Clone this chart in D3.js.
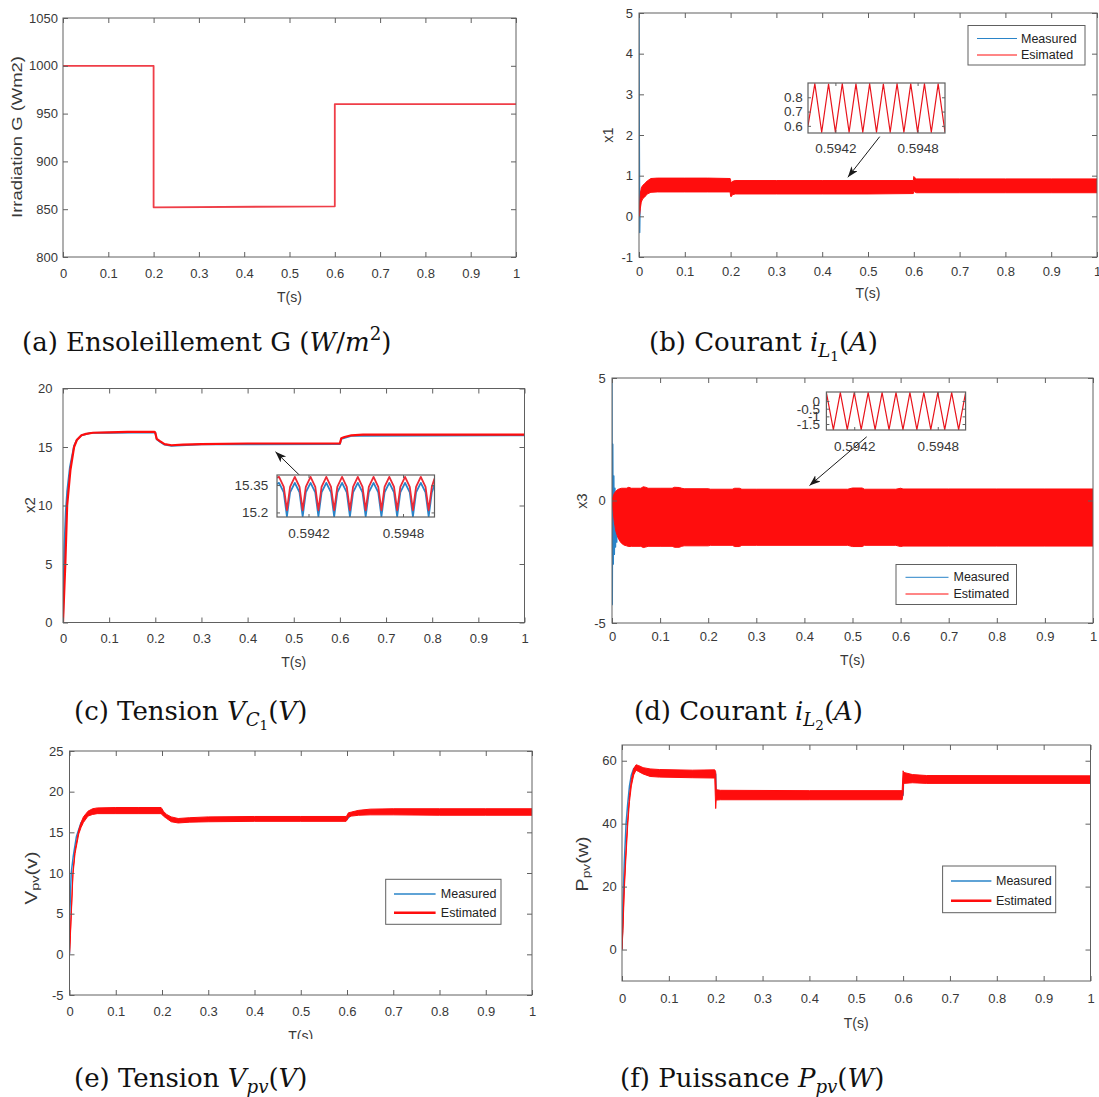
<!DOCTYPE html>
<html>
<head>
<meta charset="utf-8">
<script src="https://cdn.jsdelivr.net/npm/d3@7/dist/d3.min.js"></script>
<style>
  html, body { margin: 0; padding: 0; background: #fff; }
  svg { display: block; }
</style>
</head>
<body>
<svg id="fig" width="1099" height="1097"></svg>
<script>
// ---------- shared tick values ----------
const timeTicks = [0, 0.1, 0.2, 0.3, 0.4, 0.5, 0.6, 0.7, 0.8, 0.9, 1];
const zoomTimeTicks = [0.5942, 0.5948];
// switching instants shown in the zoomed windows (10 kHz PWM)
const zoomSwitchT = [0.594, 0.59405, 0.5941, 0.59415, 0.5942, 0.59425, 0.5943, 0.59435, 0.5944, 0.59445,
  0.5945, 0.59455, 0.5946, 0.59465, 0.5947, 0.59475, 0.5948, 0.59485, 0.5949, 0.59495, 0.595];

// ---------- (a) irradiance profile ----------
const irrT = [0, 0.2, 0.2, 0.6, 0.6, 1];
const irrG = [1000, 1000, 852, 853, 960, 960];
const irrTicks = [800, 850, 900, 950, 1000, 1050];

// ---------- (b) x1 : inductor current iL1 ----------
const x1T  = [0, 0.0015, 0.003, 0.005, 0.008, 0.012, 0.018, 0.026, 0.04, 0.1,
  0.15, 0.199, 0.2, 0.201, 0.204, 0.21, 0.3, 0.4, 0.5, 0.599,
  0.6, 0.602, 0.606, 0.7, 0.8, 0.9, 1];
const x1Hi = [0, 0.3, 0.55, 0.7, 0.76, 0.8, 0.87, 0.93, 0.94, 0.94,
  0.94, 0.93, 0.9, 0.82, 0.86, 0.88, 0.88, 0.88, 0.88, 0.88,
  0.98, 0.95, 0.92, 0.92, 0.92, 0.92, 0.92];
const x1Lo = [0, 0.05, 0.2, 0.35, 0.43, 0.47, 0.55, 0.59, 0.6, 0.6,
  0.6, 0.6, 0.5, 0.48, 0.53, 0.55, 0.55, 0.55, 0.55, 0.56,
  0.62, 0.6, 0.58, 0.58, 0.58, 0.58, 0.58];
const x1MeasT = [0, 0.0008, 0.0016, 0.0026, 0.004, 0.006];
const x1MeasV = [5, 2.0, -0.4, 0.45, 0.6, 0.65];
const x1Ticks = [-1, 0, 1, 2, 3, 4, 5];
const x1ZoomV = [0.6, 0.895, 0.555, 0.893, 0.556, 0.895, 0.555, 0.894, 0.555, 0.895,
  0.556, 0.893, 0.555, 0.895, 0.555, 0.894, 0.556, 0.895, 0.555, 0.894, 0.555];
const x1ZoomTicks = [0.6, 0.7, 0.8];

// ---------- (c) x2 : capacitor voltage VC1 ----------
const x2T = [0, 0.002, 0.005, 0.009, 0.016, 0.024, 0.03, 0.04, 0.05, 0.065,
  0.1, 0.14, 0.17, 0.198, 0.2, 0.203, 0.21, 0.22, 0.235, 0.26,
  0.3, 0.4, 0.5, 0.598, 0.6, 0.603, 0.61, 0.625, 0.65, 0.7,
  0.8, 0.9, 1];
const x2Est = [0, 2, 5, 10, 13, 15, 15.6, 16.0, 16.12, 16.22,
  16.25, 16.3, 16.3, 16.3, 16.2, 15.7, 15.5, 15.25, 15.15, 15.2,
  15.25, 15.3, 15.3, 15.3, 15.3, 15.75, 15.85, 16.0, 16.05, 16.05,
  16.05, 16.05, 16.05];
const x2MeasT = [0, 0.0015, 0.003, 0.006, 0.009, 0.015, 0.024, 0.03, 0.04, 0.06,
  0.1, 0.2, 0.203, 0.21, 0.22, 0.235, 0.3, 0.6, 0.603, 0.625, 1];
const x2MeasV = [0, 3.5, 6.5, 9.5, 11.2, 13.3, 15.1, 15.6, 16.0, 16.2,
  16.22, 16.25, 15.65, 15.45, 15.2, 15.1, 15.22, 15.25, 15.7, 15.95, 16.0];
const x2Ticks = [0, 5, 10, 15, 20];
const x2ZoomT = [0.594, 0.594013, 0.594043, 0.594063,
  0.594083, 0.594113, 0.594143, 0.594163,
  0.594183, 0.594213, 0.594243, 0.594263,
  0.594283, 0.594313, 0.594343, 0.594363,
  0.594383, 0.594413, 0.594443, 0.594463,
  0.594483, 0.594513, 0.594543, 0.594563,
  0.594583, 0.594613, 0.594643, 0.594663,
  0.594683, 0.594713, 0.594743, 0.594763,
  0.594783, 0.594813, 0.594843, 0.594863,
  0.594883, 0.594913, 0.594943, 0.594963,
  0.594983, 0.595];
const x2ZoomEst = [15.39, 15.395, 15.34, 15.212,
  15.34, 15.395, 15.34, 15.212,
  15.34, 15.395, 15.34, 15.212,
  15.34, 15.395, 15.34, 15.212,
  15.34, 15.395, 15.34, 15.212,
  15.34, 15.395, 15.34, 15.212,
  15.34, 15.395, 15.34, 15.212,
  15.34, 15.395, 15.34, 15.212,
  15.34, 15.395, 15.34, 15.212,
  15.34, 15.395, 15.34, 15.212,
  15.34, 15.385];
const x2ZoomMeas = [15.355, 15.362, 15.31, 15.178,
  15.31, 15.362, 15.31, 15.178,
  15.31, 15.362, 15.31, 15.178,
  15.31, 15.362, 15.31, 15.178,
  15.31, 15.362, 15.31, 15.178,
  15.31, 15.362, 15.31, 15.178,
  15.31, 15.362, 15.31, 15.178,
  15.31, 15.362, 15.31, 15.178,
  15.31, 15.362, 15.31, 15.178,
  15.31, 15.362, 15.31, 15.178,
  15.31, 15.352];
const x2ZoomTicks = [15.2, 15.35];

// ---------- (d) x3 : inductor current iL2 ----------
const x3T = [0, 0.002, 0.005, 0.008, 0.012, 0.016, 0.02, 0.025, 0.03, 0.035,
  0.04, 0.06, 0.065, 0.07, 0.075, 0.1, 0.125, 0.13, 0.14, 0.145,
  0.15, 0.2, 0.205, 0.25, 0.255, 0.265, 0.27, 0.3, 0.49, 0.5,
  0.52, 0.525, 0.59, 0.6, 0.605, 0.7, 0.8, 0.9, 1];
const x3Hi = [0, 0.15, 0.3, 0.38, 0.45, 0.48, 0.5, 0.5, 0.5, 0.54,
  0.5, 0.5, 0.56, 0.54, 0.5, 0.5, 0.5, 0.54, 0.53, 0.5,
  0.48, 0.48, 0.46, 0.46, 0.5, 0.5, 0.46, 0.46, 0.46, 0.51,
  0.51, 0.46, 0.46, 0.5, 0.47, 0.47, 0.47, 0.47, 0.47];
const x3Lo = [0, -0.4, -0.9, -1.25, -1.5, -1.65, -1.75, -1.82, -1.85, -1.88,
  -1.87, -1.87, -1.92, -1.9, -1.87, -1.87, -1.87, -1.91, -1.91, -1.87,
  -1.85, -1.85, -1.83, -1.83, -1.88, -1.88, -1.83, -1.83, -1.83, -1.88,
  -1.88, -1.83, -1.83, -1.88, -1.86, -1.86, -1.86, -1.86, -1.86];
const x3MeasT = [0, 0.0007, 0.0017, 0.0028, 0.0039, 0.005, 0.0062, 0.0074, 0.0087, 0.01, 0.0115, 0.013];
const x3MeasV = [5, -4.25, 2.3, -2.6, 1.0, -2.2, 0.5, -1.9, 0.3, -1.7, 0.2, -1.0];
const x3Ticks = [-5, 0, 5];
const x3ZoomV = [0.55, -1.87, 0.55, -1.87, 0.55, -1.87, 0.55, -1.87, 0.55, -1.87,
  0.55, -1.87, 0.55, -1.87, 0.55, -1.87, 0.55, -1.87, 0.55, -1.87, 0.55];
const x3ZoomTicks = [-1.5, -1, -0.5, 0];

// ---------- (e) PV voltage ----------
const vpvT = [0, 0.002, 0.004, 0.0075, 0.012, 0.02, 0.025, 0.03, 0.04, 0.05,
  0.06, 0.1, 0.15, 0.198, 0.2, 0.203, 0.21, 0.22, 0.235, 0.26,
  0.3, 0.4, 0.5, 0.598, 0.6, 0.603, 0.61, 0.625, 0.65, 0.7,
  0.8, 0.9, 1];
const vpvHi = [0, 2.7, 5.4, 10.2, 12.8, 15.3, 16.2, 16.9, 17.6, 17.9,
  18.0, 18.05, 18.05, 18.05, 17.9, 17.6, 17.2, 16.9, 16.7, 16.8,
  16.9, 16.95, 16.95, 16.95, 17.1, 17.4, 17.5, 17.7, 17.85, 17.9,
  17.9, 17.9, 17.9];
const vpvLo = [0, 2.3, 5.0, 9.8, 12.4, 14.8, 15.6, 16.2, 17.0, 17.2,
  17.3, 17.3, 17.3, 17.3, 17.2, 17.0, 16.7, 16.3, 16.15, 16.25,
  16.3, 16.35, 16.35, 16.35, 16.5, 16.9, 17.0, 17.1, 17.15, 17.15,
  17.1, 17.1, 17.1];
const vpvMeasT = [0, 0.0007, 0.0037, 0.008, 0.015, 0.025, 0.035, 0.05, 0.2, 0.21,
  0.23, 0.3, 0.6, 0.61, 0.65, 0.8, 0.9, 1];
const vpvMeasV = [0, 5, 10, 12, 14.5, 16.2, 17.0, 17.5, 17.6, 16.9,
  16.4, 16.6, 16.6, 17.2, 17.5, 17.5, 17.5, 17.5];
const vpvTicks = [-5, 0, 5, 10, 15, 20, 25];

// ---------- (f) PV power ----------
const ppvT = [0, 0.002, 0.005, 0.008, 0.012, 0.016, 0.02, 0.025, 0.03, 0.035,
  0.045, 0.06, 0.08, 0.15, 0.198, 0.2, 0.201, 0.21, 0.4, 0.598,
  0.6, 0.601, 0.62, 0.65, 1];
const ppvHi = [0, 8, 21, 30, 41, 49, 54, 57.5, 58.7, 58.5,
  57.8, 57.4, 57.2, 57.0, 57.1, 56.5, 50.8, 50.6, 50.5, 50.5,
  56.8, 56.3, 55.6, 55.3, 55.2];
const ppvLo = [0, 6, 19, 28, 39, 47, 52, 55.5, 57, 56.6,
  55.8, 55.0, 54.8, 54.6, 54.5, 44.8, 47.5, 47.6, 47.6, 47.6,
  49.5, 52.8, 53.0, 52.8, 52.8];
const ppvMeasT = [0, 0.002, 0.005, 0.0087, 0.012, 0.016, 0.02, 0.025, 0.03, 0.045,
  0.08, 0.2, 0.201, 0.3, 0.6, 0.601, 0.65, 1];
const ppvMeasV = [0, 14, 28, 40, 46, 52, 55.5, 57.5, 58, 57,
  56, 55.8, 49, 49, 49, 54.5, 54, 54];
const ppvTicks = [0, 20, 40, 60];

// ---------- styling ----------
const SANS = '"Liberation Sans", Arial, Helvetica, sans-serif';
const SERIF = '"DejaVu Serif", serif';
const RED = '#ff0d0d';
const BLUE = '#2a84c8';
const AXIS = '#606060';
const TEXT = '#383838';
const TICK_FONT = 13;

const svg = d3.select('#fig');
svg.append('rect').attr('width', 1099).attr('height', 1097).attr('fill', '#fff');
const defs = svg.append('defs');
defs.append('marker').attr('id', 'arrowhead')
  .attr('markerUnits', 'userSpaceOnUse')
  .attr('markerWidth', 12).attr('markerHeight', 10)
  .attr('refX', 11).attr('refY', 4).attr('orient', 'auto')
  .append('path').attr('d', 'M0,0 L11,4 L0,8 L3,4 Z').attr('fill', '#1a1a1a');

const fmt = d => String(d);
const zip = (a, b) => a.map((v, i) => [v, b[i]]);
const zip3 = (a, b, c) => a.map((v, i) => [v, b[i], c[i]]);

function styleAxis(sel, size) {
  sel.select('.domain').remove();
  sel.selectAll('line').attr('stroke', AXIS).attr('stroke-width', 1);
  sel.selectAll('text').attr('fill', TEXT).attr('font-family', SANS).attr('font-size', size);
}

function richText(parent, parts, base) {
  let cur = 0;
  parts.forEach(p => {
    let shift = 0, scale = 1;
    if (p.sub === 1) { shift = 0.22 * base; scale = 0.7; }
    if (p.sub === 2) { shift = 0.38 * base; scale = 0.52; }
    if (p.sup) { shift = -0.42 * base; scale = 0.7; }
    const ts = parent.append('tspan').attr('dy', shift - cur)
      .attr('font-size', base * scale).text(p.t);
    if (p.it) ts.attr('font-style', 'italic');
    cur = shift;
  });
}

function makePanel(cfg) {
  const x = d3.scaleLinear().domain([0, 1]).range([cfg.left, cfg.right]);
  const y = d3.scaleLinear().domain(cfg.yDomain).range([cfg.bottom, cfg.top]);
  const g = svg.append('g');
  const id = 'clip-' + cfg.key;
  defs.append('clipPath').attr('id', id).append('rect')
    .attr('x', cfg.left).attr('y', cfg.top)
    .attr('width', cfg.right - cfg.left).attr('height', cfg.bottom - cfg.top);
  const plot = g.append('g').attr('clip-path', `url(#${id})`);
  return { x, y, g, plot, cfg };
}

function dressPanel(p) {
  const { x, y, g, cfg } = p;
  g.append('g').attr('transform', `translate(0,${cfg.bottom})`)
    .call(d3.axisBottom(x).tickValues(timeTicks).tickSize(-5).tickPadding(cfg.xPad).tickFormat(fmt))
    .call(s => styleAxis(s, TICK_FONT));
  g.append('g').attr('transform', `translate(0,${cfg.top})`)
    .call(d3.axisTop(x).tickValues(timeTicks).tickSize(-5).tickFormat(''))
    .call(s => styleAxis(s, TICK_FONT));
  g.append('g').attr('transform', `translate(${cfg.left},0)`)
    .call(d3.axisLeft(y).tickValues(cfg.yTicks).tickSize(-5).tickPadding(cfg.yPad).tickFormat(fmt))
    .call(s => styleAxis(s, TICK_FONT));
  g.append('g').attr('transform', `translate(${cfg.right},0)`)
    .call(d3.axisRight(y).tickValues(cfg.yTicks).tickSize(-5).tickFormat(''))
    .call(s => styleAxis(s, TICK_FONT));
  g.append('rect').attr('x', cfg.left).attr('y', cfg.top)
    .attr('width', cfg.right - cfg.left).attr('height', cfg.bottom - cfg.top)
    .attr('fill', 'none').attr('stroke', AXIS).attr('stroke-width', 1);

  // x label
  const xl = g.append('text')
    .attr('x', (cfg.left + cfg.right) / 2).attr('y', cfg.bottom + cfg.xLabelOff)
    .attr('text-anchor', 'middle').attr('dominant-baseline', 'central')
    .attr('font-family', SANS).attr('font-size', 14).attr('fill', TEXT).text('T(s)');
  if (cfg.xLabelClip) xl.attr('clip-path', `url(#${cfg.xLabelClip})`);

  // y label
  const yl = g.append('text')
    .attr('transform', `translate(${cfg.yLabelX},${cfg.yLabelY}) rotate(-90)`)
    .attr('text-anchor', 'middle').attr('dominant-baseline', 'central')
    .attr('font-family', SANS).attr('font-size', cfg.yLabelSize).attr('fill', TEXT);
  richText(yl, cfg.yLabel, cfg.yLabelSize);
  if (cfg.yLabelLen) yl.attr('textLength', cfg.yLabelLen).attr('lengthAdjust', 'spacingAndGlyphs');

  // caption
  const cap = svg.append('text').attr('x', cfg.capX).attr('y', cfg.capY)
    .attr('font-family', SERIF).attr('fill', '#111');
  richText(cap, cfg.caption, 26);
}

function legend(cfg) {
  const g = svg.append('g');
  g.append('rect').attr('x', cfg.x).attr('y', cfg.y).attr('width', cfg.w).attr('height', cfg.h)
    .attr('fill', '#fff').attr('stroke', AXIS).attr('stroke-width', 1);
  cfg.items.forEach((it, i) => {
    g.append('line').attr('x1', cfg.lx1).attr('x2', cfg.lx2).attr('y1', cfg.rows[i]).attr('y2', cfg.rows[i])
      .attr('stroke', it.color).attr('stroke-width', it.width);
    g.append('text').attr('x', cfg.tx).attr('y', cfg.rows[i]).attr('dominant-baseline', 'central')
      .attr('font-family', SANS).attr('font-size', 12.5).attr('fill', '#222').text(it.label);
  });
}

function inset(cfg) {
  const x = d3.scaleLinear().domain([0.594, 0.595]).range([cfg.l, cfg.r]);
  const y = d3.scaleLinear().domain(cfg.yDomain).range([cfg.b, cfg.t]);
  const g = svg.append('g');
  g.append('rect').attr('x', cfg.l).attr('y', cfg.t).attr('width', cfg.r - cfg.l).attr('height', cfg.b - cfg.t)
    .attr('fill', '#fff');
  const id = 'clip-' + cfg.key;
  defs.append('clipPath').attr('id', id).append('rect')
    .attr('x', cfg.l).attr('y', cfg.t).attr('width', cfg.r - cfg.l).attr('height', cfg.b - cfg.t);
  const plot = g.append('g').attr('clip-path', `url(#${id})`);
  const line = d3.line().x(d => x(d[0])).y(d => y(d[1]));
  cfg.series.forEach(s => {
    plot.append('path').attr('d', line(zip(s.t, s.v))).attr('fill', 'none')
      .attr('stroke', s.color).attr('stroke-width', s.width).attr('stroke-linejoin', 'round');
  });
  g.append('g').attr('transform', `translate(0,${cfg.b})`)
    .call(d3.axisBottom(x).tickValues(zoomTimeTicks).tickSize(-3).tickPadding(cfg.xPad).tickFormat(fmt))
    .call(s => styleAxis(s, 13.5));
  g.append('g').attr('transform', `translate(0,${cfg.t})`)
    .call(d3.axisTop(x).tickValues(zoomTimeTicks).tickSize(-3).tickFormat(''))
    .call(s => styleAxis(s, 13.5));
  g.append('g').attr('transform', `translate(${cfg.l},0)`)
    .call(d3.axisLeft(y).tickValues(cfg.yTicks).tickSize(-3).tickPadding(cfg.yPad).tickFormat(fmt))
    .call(s => styleAxis(s, 13.5));
  g.append('g').attr('transform', `translate(${cfg.r},0)`)
    .call(d3.axisRight(y).tickValues(cfg.yTicks).tickSize(-3).tickFormat(''))
    .call(s => styleAxis(s, 13.5));
  g.append('rect').attr('x', cfg.l).attr('y', cfg.t).attr('width', cfg.r - cfg.l).attr('height', cfg.b - cfg.t)
    .attr('fill', 'none').attr('stroke', AXIS).attr('stroke-width', 1.2);
}

function arrow(p, from, to) {
  p.g.append('line')
    .attr('x1', p.x(from[0])).attr('y1', p.y(from[1]))
    .attr('x2', p.x(to[0])).attr('y2', p.y(to[1]))
    .attr('stroke', '#1a1a1a').attr('stroke-width', 1)
    .attr('marker-end', 'url(#arrowhead)');
}

function band(p, t, hi, lo, color) {
  const area = d3.area().x(d => p.x(d[0])).y0(d => p.y(d[2])).y1(d => p.y(d[1]));
  p.plot.append('path').attr('d', area(zip3(t, hi, lo)))
    .attr('fill', color).attr('stroke', color).attr('stroke-width', 1);
}

function trace(p, t, v, color, width) {
  const line = d3.line().x(d => p.x(d[0])).y(d => p.y(d[1]));
  p.plot.append('path').attr('d', line(zip(t, v))).attr('fill', 'none')
    .attr('stroke', color).attr('stroke-width', width).attr('stroke-linejoin', 'round');
}

// =============== (a) ===============
const pA = makePanel({ key: 'a', left: 63, right: 516, top: 18, bottom: 257, yDomain: [800, 1050] });
trace(pA, irrT, irrG, '#ef3e48', 1.8);
dressPanel({ ...pA, cfg: { ...pA.cfg, yTicks: irrTicks, xPad: 11.5, yPad: 5, xLabelOff: 40,
  yLabelX: 17, yLabelY: 137, yLabelSize: 14.5, yLabelLen: 162,
  yLabel: [{ t: 'Irradiation G (Wm2)' }],
  capX: 22, capY: 351,
  caption: [{ t: '(a) Ensoleillement G (' }, { t: 'W', it: 1 }, { t: '/' }, { t: 'm', it: 1 }, { t: '2', sup: 1 }, { t: ')' }] } });

// =============== (b) ===============
const pB = makePanel({ key: 'b', left: 639, right: 1097, top: 13, bottom: 257, yDomain: [-1, 5] });
trace(pB, x1MeasT, x1MeasV, BLUE, 1.3);
band(pB, x1T, x1Hi, x1Lo, RED);
dressPanel({ ...pB, cfg: { ...pB.cfg, yTicks: x1Ticks, xPad: 10, yPad: 6, xLabelOff: 36,
  yLabelX: 608, yLabelY: 135, yLabelSize: 14.5,
  yLabel: [{ t: 'x1' }],
  capX: 649, capY: 351,
  caption: [{ t: '(b) Courant ' }, { t: 'i', it: 1 }, { t: 'L', it: 1, sub: 1 }, { t: '1', sub: 2 }, { t: '(' }, { t: 'A', it: 1 }, { t: ')' }] } });
legend({ x: 968, y: 25.5, w: 117, h: 39.5, lx1: 977, lx2: 1017, tx: 1021, rows: [38.5, 55],
  items: [{ label: 'Measured', color: BLUE, width: 1 }, { label: 'Esimated', color: RED, width: 1 }] });
inset({ key: 'zb', l: 808, r: 945, t: 83, b: 133, yDomain: [0.55, 0.9], yTicks: x1ZoomTicks, xPad: 10.4, yPad: 5.3,
  series: [{ t: zoomSwitchT, v: x1ZoomV, color: '#e8141c', width: 1.2 }] });
arrow(pB, [0.5256, 1.96], [0.456, 0.96]);

// =============== (c) ===============
const pC = makePanel({ key: 'c', left: 63, right: 524.5, top: 388.5, bottom: 622.5, yDomain: [0, 20] });
trace(pC, x2MeasT, x2MeasV, BLUE, 1.8);
trace(pC, x2T, x2Est, RED, 2.2);
dressPanel({ ...pC, cfg: { ...pC.cfg, yTicks: x2Ticks, xPad: 11, yPad: 10.5, xLabelOff: 39,
  yLabelX: 29, yLabelY: 505, yLabelSize: 15,
  yLabel: [{ t: 'x2' }],
  capX: 74, capY: 720,
  caption: [{ t: '(c) Tension ' }, { t: 'V', it: 1 }, { t: 'C', it: 1, sub: 1 }, { t: '1', sub: 2 }, { t: '(' }, { t: 'V', it: 1 }, { t: ')' }] } });
inset({ key: 'zc', l: 277, r: 434.5, t: 475, b: 517, yDomain: [15.175, 15.405], yTicks: x2ZoomTicks, xPad: 11.4, yPad: 8.7,
  series: [{ t: x2ZoomT, v: x2ZoomMeas, color: BLUE, width: 1.8 }, { t: x2ZoomT, v: x2ZoomEst, color: '#ec2a36', width: 1.8 }] });
arrow(pC, [0.5237, 12.16], [0.4604, 14.59]);

// =============== (d) ===============
const pD = makePanel({ key: 'd', left: 612, right: 1093, top: 378, bottom: 623, yDomain: [-5, 5] });
trace(pD, x3MeasT, x3MeasV, BLUE, 1.3);
band(pD, x3T, x3Hi, x3Lo, RED);
dressPanel({ ...pD, cfg: { ...pD.cfg, yTicks: x3Ticks, xPad: 9, yPad: 6.2, xLabelOff: 37,
  yLabelX: 582, yLabelY: 501, yLabelSize: 14.5,
  yLabel: [{ t: 'x3' }],
  capX: 634, capY: 720,
  caption: [{ t: '(d) Courant ' }, { t: 'i', it: 1 }, { t: 'L', it: 1, sub: 1 }, { t: '2', sub: 2 }, { t: '(' }, { t: 'A', it: 1 }, { t: ')' }] } });
legend({ x: 896, y: 564.5, w: 120.5, h: 40, lx1: 905.5, lx2: 948.5, tx: 953.5, rows: [577.3, 594],
  items: [{ label: 'Measured', color: BLUE, width: 1 }, { label: 'Estimated', color: RED, width: 1 }] });
inset({ key: 'zd', l: 826.4, r: 965.6, t: 392, b: 430, yDomain: [-1.89, 0.59], yTicks: x3ZoomTicks, xPad: 11, yPad: 6.4,
  series: [{ t: zoomSwitchT, v: x3ZoomV, color: '#e8141c', width: 1.2 }] });
arrow(pD, [0.5295, 2.6], [0.4106, 0.61]);

// =============== (e) ===============
defs.append('clipPath').attr('id', 'clip-e-label').append('rect')
  .attr('x', 0).attr('y', 0).attr('width', 1099).attr('height', 1039);
const pE = makePanel({ key: 'e', left: 69.5, right: 532, top: 751, bottom: 995, yDomain: [-5, 25] });
trace(pE, vpvMeasT, vpvMeasV, BLUE, 1.5);
band(pE, vpvT, vpvHi, vpvLo, RED);
dressPanel({ ...pE, cfg: { ...pE.cfg, yTicks: vpvTicks, xPad: 12, yPad: 6, xLabelOff: 41, xLabelClip: 'clip-e-label',
  yLabelX: 31, yLabelY: 878, yLabelSize: 16, yLabelLen: 53,
  yLabel: [{ t: 'V' }, { t: 'pv', sub: 1 }, { t: '(v)' }],
  capX: 74, capY: 1087,
  caption: [{ t: '(e) Tension ' }, { t: 'V', it: 1 }, { t: 'pv', it: 1, sub: 1 }, { t: '(' }, { t: 'V', it: 1 }, { t: ')' }] } });
legend({ x: 385.7, y: 879.3, w: 115.3, h: 45, lx1: 394, lx2: 435.6, tx: 440.8, rows: [894, 912.7],
  items: [{ label: 'Measured', color: BLUE, width: 1.5 }, { label: 'Estimated', color: RED, width: 2.6 }] });

// =============== (f) ===============
const pF = makePanel({ key: 'f', left: 622, right: 1090.5, top: 745, bottom: 981, yDomain: [-10, 65] });
trace(pF, ppvMeasT, ppvMeasV, BLUE, 1.5);
band(pF, ppvT, ppvHi, ppvLo, RED);
dressPanel({ ...pF, cfg: { ...pF.cfg, yTicks: ppvTicks, xPad: 12.7, yPad: 5.2, xLabelOff: 42,
  yLabelX: 582, yLabelY: 864, yLabelSize: 16, yLabelLen: 55,
  yLabel: [{ t: 'P' }, { t: 'pv', sub: 1 }, { t: '(w)' }],
  capX: 620, capY: 1087,
  caption: [{ t: '(f) Puissance ' }, { t: 'P', it: 1 }, { t: 'pv', it: 1, sub: 1 }, { t: '(' }, { t: 'W', it: 1 }, { t: ')' }] } });
legend({ x: 942.6, y: 866, w: 113.1, h: 46.7, lx1: 951, lx2: 991.4, tx: 996, rows: [881, 900.7],
  items: [{ label: 'Measured', color: BLUE, width: 1.5 }, { label: 'Estimated', color: RED, width: 2.6 }] });
</script>
</body>
</html>
